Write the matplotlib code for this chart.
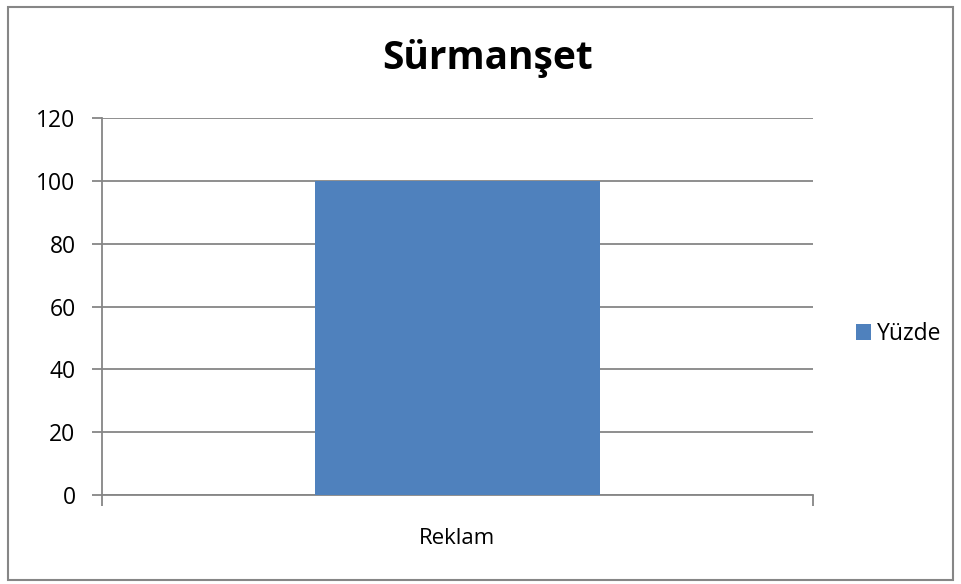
import matplotlib.pyplot as plt
from matplotlib.patches import Rectangle

# data
categories = ["Reklam"]
yuzde = [100]
yticks = [0, 20, 40, 60, 80, 100, 120]

plt.rcParams['font.family'] = ['Open Sans', 'DejaVu Sans']

fig = plt.figure(figsize=(9.62, 5.84), dpi=100)
W, H = 962, 584

# outer chart border
fig.patches.append(Rectangle((8 / W, 1 - 580 / H), 945 / W, 573 / H,
                             transform=fig.transFigure, fill=False,
                             edgecolor='#868686', linewidth=1.5))

ax = fig.add_axes([102 / W, 1 - 495 / H, 711 / W, 377 / H])
x = list(range(len(categories)))
bars = ax.bar(x, yuzde, width=0.4, color='#4F81BD', label='Yüzde', zorder=3)

ax.set_xlim(-0.5, len(categories) - 0.5)
ax.set_ylim(0, 120)
ax.set_yticks(yticks)
ax.yaxis.grid(True, color='#868686', linewidth=1.3, zorder=0)

ax.set_xticks(x)
ax.set_xticklabels(categories)
ax.tick_params(axis='x', length=0, labelsize=16, pad=24)
ax.set_xticks([-0.5, len(categories) - 0.5], minor=True)
ax.tick_params(axis='x', which='minor', length=8, width=1.3, color='#868686')
ax.tick_params(axis='y', length=7, width=1.3, color='#868686', labelsize=16.5, pad=12)

for s in ['top', 'right']:
    ax.spines[s].set_visible(False)
ax.spines['left'].set_color('#868686')
ax.spines['left'].set_linewidth(1.3)
ax.spines['bottom'].set_color('#868686')
ax.spines['bottom'].set_linewidth(1.3)

fig.text(488 / W, 1 - 58 / H, "Sürmanşet", ha='center', va='center',
         fontsize=28, fontweight='bold')

fig.legend(handles=[bars], labels=['Yüzde'], loc='center left',
           bbox_to_anchor=(835 / W, 1 - 334 / H), frameon=False,
           fontsize=16.5, handlelength=0.65, handleheight=0.65, handletextpad=0.26)

fig.savefig('out.png', dpi=100)
